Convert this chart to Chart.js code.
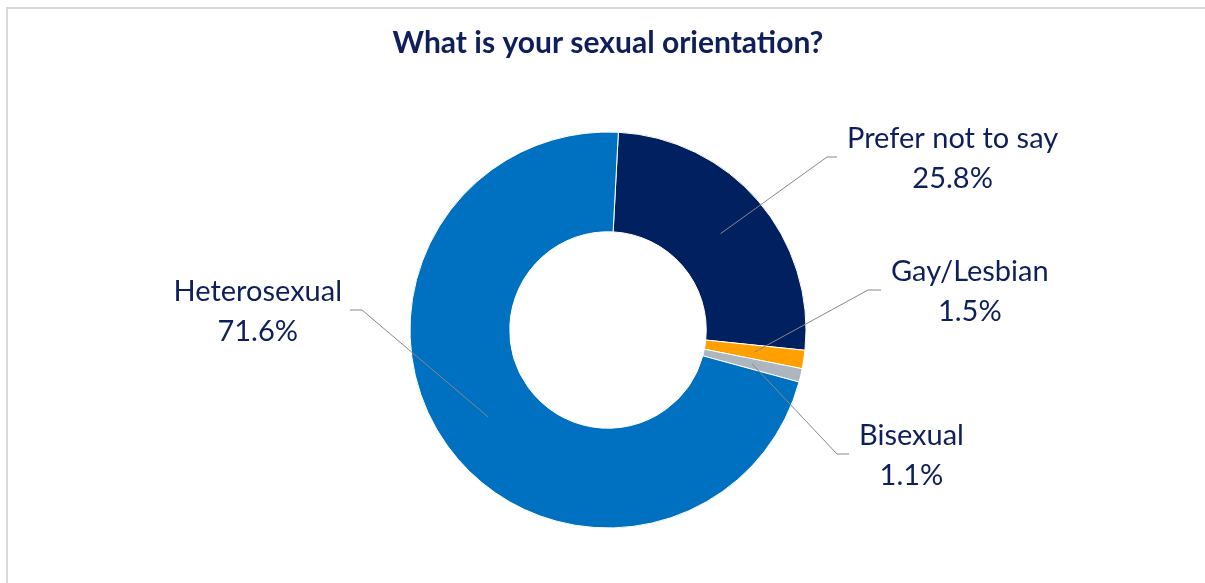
<!DOCTYPE html>
<html>
<head>
<meta charset="utf-8">
<title>Sexual orientation</title>
<script src="https://cdn.jsdelivr.net/npm/chart.js"></script>
<style>
  body { margin: 0; background: #fff; }
  .frame {
    position: absolute; left: 6px; top: 7px; width: 1400px; height: 800px;
    border-left: 2px solid #d9d9d9; border-top: 2px solid #d9d9d9;
  }
  canvas { position: absolute; left: 0; top: 0; }
</style>
</head>
<body>
<div class="frame"></div>
<canvas id="orientationChart" width="1205" height="583"></canvas>
<script>
// Survey answers, in clockwise order from the top of the ring
const categories = ['Prefer not to say', 'Gay/Lesbian', 'Bisexual', 'Heterosexual'];
const percentages = [25.8, 1.5, 1.1, 71.6];
const sliceColors = ['#002060', '#FF9F00', '#ADB5BF', '#0070C0'];

const textColor = '#0F1F5C';
const labelFont = '29px Lato, "Open Sans", sans-serif';

// where each leader line bends and which side its label sits on
const labelLayout = [
  { bendX: 827, endX: 837, y: 157, side: 'right' },
  { bendX: 868, endX: 881, y: 290, side: 'right' },
  { bendX: 837, endX: 849, y: 454, side: 'right' },
  { bendX: 362, endX: 350, y: 310, side: 'left' },
];

const titlePlugin = {
  id: 'chartTitle',
  afterDraw(chart) {
    const ctx = chart.ctx;
    ctx.save();
    ctx.fillStyle = textColor;
    ctx.font = 'bold 30px Lato, "Open Sans", sans-serif';
    ctx.textAlign = 'center';
    ctx.textBaseline = 'alphabetic';
    ctx.fillText('What is your sexual orientation?', 608, 53);
    ctx.restore();
  }
};

// data labels with leader lines from the middle of each slice
const leaderLabels = {
  id: 'leaderLabels',
  afterDatasetsDraw(chart) {
    const ctx = chart.ctx;
    const arcs = chart.getDatasetMeta(0).data;
    ctx.save();
    arcs.forEach((arc, i) => {
      const lay = labelLayout[i];
      const p = arc.getCenterPoint();
      ctx.strokeStyle = '#888888';
      ctx.lineWidth = 1;
      ctx.beginPath();
      ctx.moveTo(p.x, p.y);
      ctx.lineTo(lay.bendX, lay.y);
      ctx.lineTo(lay.endX, lay.y);
      ctx.stroke();

      const lines = [categories[i], percentages[i].toFixed(1) + '%'];
      ctx.font = labelFont;
      const w = Math.max(...lines.map(t => ctx.measureText(t).width));
      const cx = lay.side === 'right' ? lay.endX + 10 + w / 2 : lay.endX - 8 - w / 2;
      ctx.fillStyle = textColor;
      ctx.textAlign = 'center';
      ctx.textBaseline = 'alphabetic';
      ctx.fillText(lines[0], cx, lay.y - 9);
      ctx.fillText(lines[1], cx, lay.y + 31);
    });
    ctx.restore();
  }
};

new Chart(document.getElementById('orientationChart'), {
  type: 'doughnut',
  data: {
    labels: categories,
    datasets: [{
      data: percentages,
      backgroundColor: sliceColors,
      borderColor: '#ffffff',
      borderWidth: 1,
    }]
  },
  options: {
    responsive: false,
    animation: false,
    rotation: 3,
    radius: 198,
    cutout: 98,
    layout: { padding: { top: 132, bottom: 55, left: 410, right: 399 } },
    plugins: {
      legend: { display: false },
      tooltip: { enabled: false },
    }
  },
  plugins: [titlePlugin, leaderLabels]
});
</script>
</body>
</html>
